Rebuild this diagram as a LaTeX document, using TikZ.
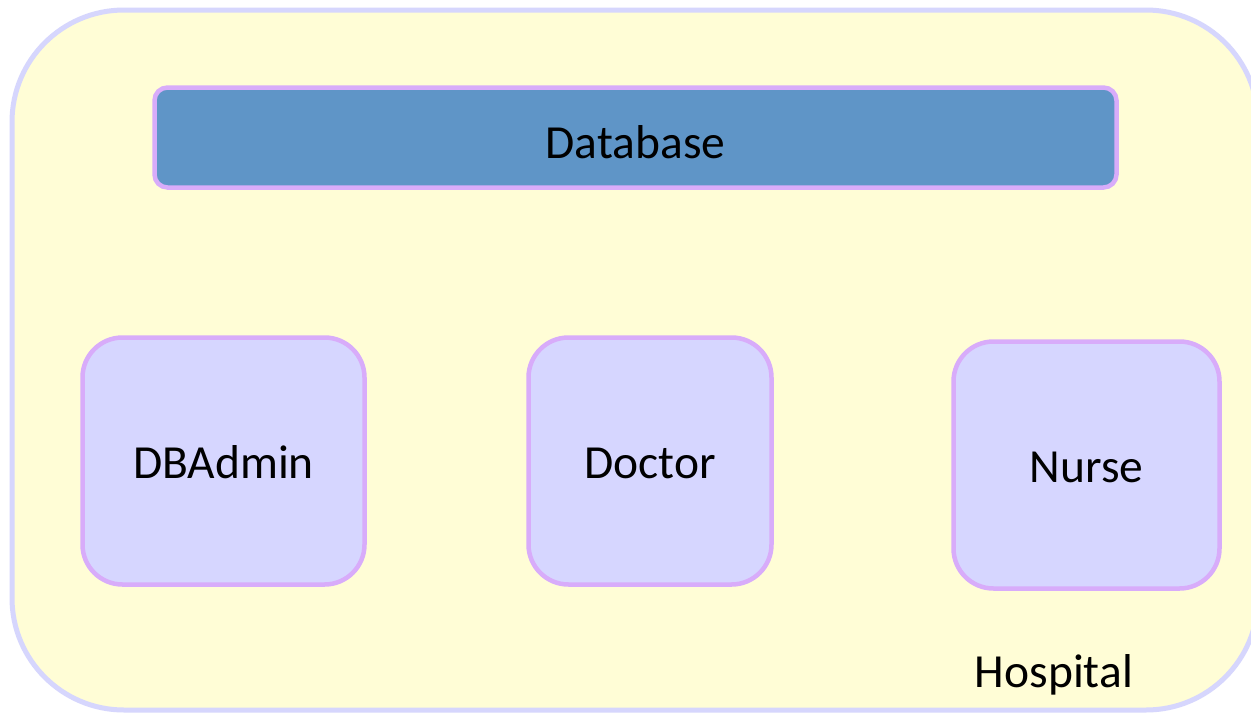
\documentclass[tikz,border=0pt]{standalone}
\usepackage{fontspec}
\setmainfont{Carlito}
\definecolor{outerline}{RGB}{214,214,253}
\definecolor{outerfill}{RGB}{255,253,214}
\definecolor{lilac}{RGB}{216,172,250}
\definecolor{boxfill}{RGB}{214,214,255}
\definecolor{dbfill}{RGB}{95,149,199}
\tikzset{
  lbl/.style={font=\fontsize{47.5}{57}\selectfont, text=black},
  rolebox/.style={draw=lilac, line width=4.5pt, fill=boxfill, rounded corners=40pt, inner sep=0pt, lbl, text height=35pt, text depth=0pt},
  dbbox/.style={draw=lilac, line width=4.5pt, fill=dbfill, rounded corners=13pt, inner sep=0pt, lbl, text height=41pt, text depth=0pt},
}
\begin{document}
\begin{tikzpicture}[x=1pt,y=-1pt]
\useasboundingbox[clip] (0,0) rectangle (1251,713);
\fill[white] (0,0) rectangle (1251,713);
\draw[draw=outerline, fill=outerfill, line width=5pt, rounded corners=112pt] (12,10) rectangle (1258,710);
\node[dbbox, minimum width=962pt, minimum height=100pt] (db) at (635.5,137.5) {Database};
\node[rolebox, minimum width=282pt, minimum height=247pt] (dbadmin) at (223.5,461) {DBAdmin};
\node[rolebox, minimum width=243pt, minimum height=247pt] (doctor) at (650,461) {Doctor};
\node[rolebox, minimum width=266pt, minimum height=247pt] (nurse) at (1086.5,465) {Nurse};
\node[lbl, inner sep=0pt] (hospital) at (1054,675) {Hospital};
\end{tikzpicture}
\end{document}
